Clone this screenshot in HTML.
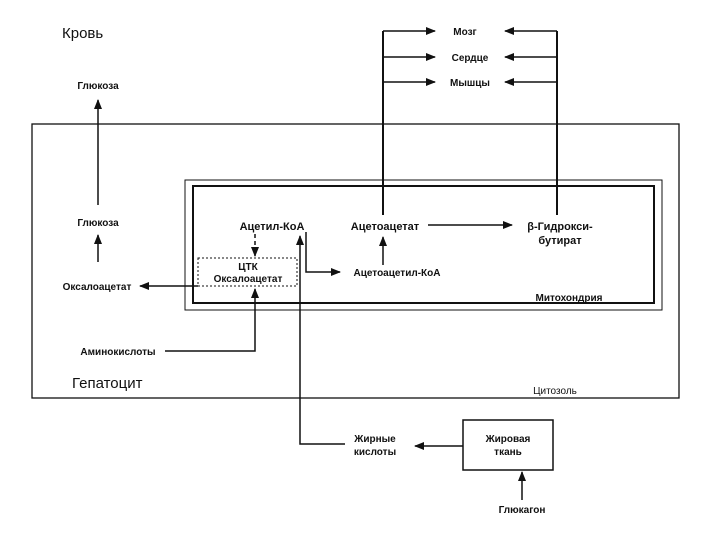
<!DOCTYPE html>
<html><head><meta charset="utf-8"><style>
body{margin:0;background:#fff}
svg{display:block}
text{font-family:"Liberation Sans",sans-serif;fill:#111}
</style></head><body>
<svg width="720" height="540" viewBox="0 0 720 540">
<defs><marker id="a" markerWidth="10" markerHeight="8" refX="9" refY="4" orient="auto" markerUnits="userSpaceOnUse"><path d="M0,0 L10,4 L0,8 z" fill="#111"/></marker></defs>
<g stroke="#111" fill="none" stroke-width="1.5">
<rect x="32" y="124" width="647" height="274" stroke-width="1.3"/>
<rect x="185" y="180" width="477" height="130" stroke-width="1"/>
<rect x="193" y="186" width="461" height="117" stroke-width="2"/>
<rect x="198" y="258" width="99" height="28" stroke-dasharray="2,2" stroke-width="1"/>
<rect x="463" y="420" width="90" height="50" stroke-width="1.5"/>
<path d="M383,215 V31 M557,215 V31" stroke-width="2"/>
<path d="M383,31 H435" marker-end="url(#a)"/>
<path d="M383,57 H435" marker-end="url(#a)"/>
<path d="M383,82 H435" marker-end="url(#a)"/>
<path d="M557,31 H505" marker-end="url(#a)"/>
<path d="M557,57 H505" marker-end="url(#a)"/>
<path d="M557,82 H505" marker-end="url(#a)"/>
<path d="M98,205 V100" marker-end="url(#a)"/>
<path d="M98,262 V235" marker-end="url(#a)"/>
<path d="M198,286 H140" marker-end="url(#a)"/>
<path d="M165,351 H255 V289" marker-end="url(#a)"/>
<path d="M345,444 H300 V236" marker-end="url(#a)"/>
<path d="M463,446 H415" marker-end="url(#a)"/>
<path d="M522,500 V472" marker-end="url(#a)"/>
<path d="M255,234 V256" stroke-dasharray="4,3" marker-end="url(#a)"/>
<path d="M306,232 V272 H340" marker-end="url(#a)"/>
<path d="M383,265 V237" marker-end="url(#a)"/>
<path d="M428,225 H512" marker-end="url(#a)"/>
</g>
<g font-size="10" text-anchor="middle" font-weight="bold">
<text x="465" y="35">Мозг</text>
<text x="470" y="61">Сердце</text>
<text x="470" y="86">Мышцы</text>
<text x="98" y="89">Глюкоза</text>
<text x="98" y="226">Глюкоза</text>
<text x="97" y="290">Оксалоацетат</text>
<text x="272" y="230" font-size="11">Ацетил-КоА</text>
<text x="385" y="230" font-size="11">Ацетоацетат</text>
<text x="560" y="230" font-size="11">β-Гидрокси-</text>
<text x="560" y="244" font-size="11">бутират</text>
<text x="248" y="270">ЦТК</text>
<text x="248" y="282">Оксалоацетат</text>
<text x="397" y="276">Ацетоацетил-КоА</text>
<text x="569" y="301">Митохондрия</text>
<text x="118" y="355">Аминокислоты</text>
<text x="555" y="394" font-weight="normal">Цитозоль</text>
<text x="375" y="442">Жирные</text>
<text x="375" y="455">кислоты</text>
<text x="508" y="442">Жировая</text>
<text x="508" y="455">ткань</text>
<text x="522" y="513">Глюкагон</text>
</g>
<text x="62" y="38" font-size="15">Кровь</text>
<text x="72" y="388" font-size="15">Гепатоцит</text>
</svg>
</body></html>
